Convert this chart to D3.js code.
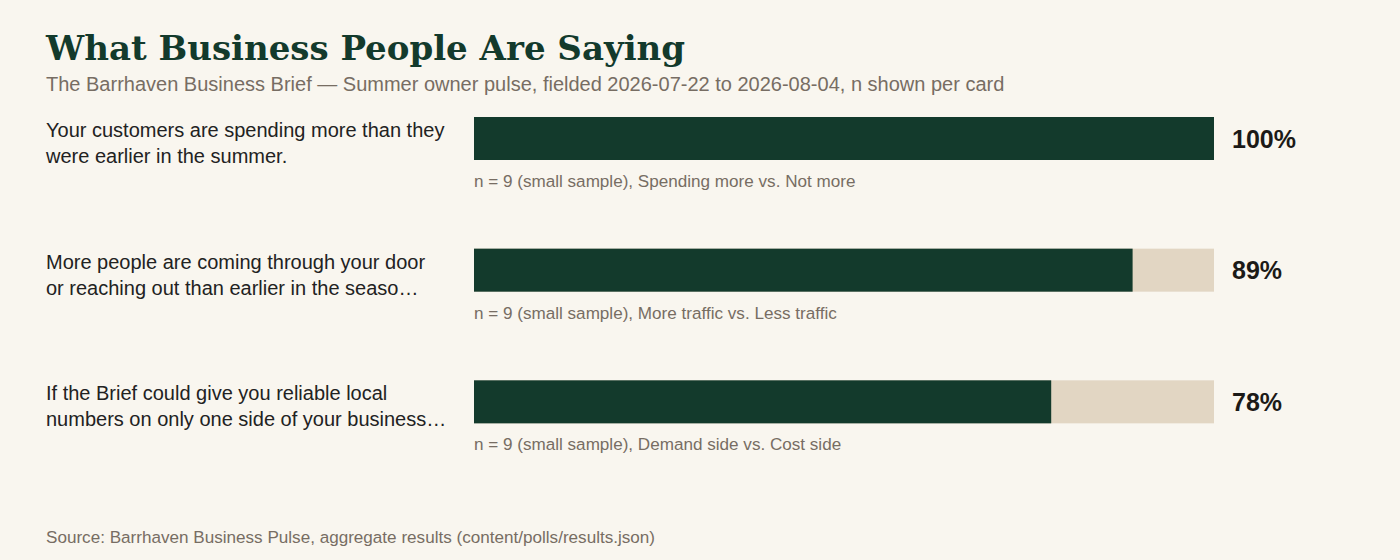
<!DOCTYPE html>
<html>
<head>
<meta charset="utf-8"/>
<script src="https://d3js.org/d3.v7.min.js"></script>
<style>
  body { margin: 0; background: #f9f6ef; }
</style>
</head>
<body>
<svg id="chart" width="1400" height="560"></svg>
<script>
// questions, each as the two lines shown on the card
let questions = [
    ["Your customers are spending more than they", "were earlier in the summer."],
    ["More people are coming through your door", "or reaching out than earlier in the seaso\u2026"],
    ["If the Brief could give you reliable local", "numbers on only one side of your business\u2026"]
];
let shares = [100, 89, 78];
let notes = [
    "n = 9 (small sample), Spending more vs. Not more",
    "n = 9 (small sample), More traffic vs. Less traffic",
    "n = 9 (small sample), Demand side vs. Cost side"
];

let svg = d3.select("svg#chart");
let green = "#133a2c";
let beige = "#e2d6c3";
let grey = "#776d63";
let sans = "'Liberation Sans', Arial, sans-serif";

svg.append("rect").attr("width", 1400).attr("height", 560).style("fill", "#f9f6ef");

// title + subtitle
svg.append("text")
    .text("What Business People Are Saying")
    .attr("x", 46).attr("y", 60)
    .style("font-family", "'DejaVu Serif', serif")
    .style("font-weight", "bold")
    .style("font-size", "34px")
    .style("fill", green);
svg.append("text")
    .text("The Barrhaven Business Brief \u2014 Summer owner pulse, fielded 2026-07-22 to 2026-08-04, n shown per card")
    .attr("x", 46).attr("y", 91)
    .style("font-family", sans)
    .style("font-size", "20px")
    .style("fill", grey);

let xScale = d3.scaleLinear().domain([0, 100]).range([474, 1214]);
let yScale = d3.scaleBand().domain(d3.range(questions.length)).range([117, 512]);
let barH = 43;

questions.forEach(function(q, i) {
    let y0 = yScale(i);
    let g = svg.append("g");

    q.forEach(function(line, j) {
        g.append("text")
            .text(line)
            .attr("x", 46)
            .attr("y", y0 + 20 + j * 26)
            .style("font-family", sans)
            .style("font-size", "20px")
            .style("fill", "#222222");
    });

    // track then filled part
    g.append("rect")
        .attr("x", xScale(0)).attr("y", y0)
        .attr("width", xScale(100) - xScale(0)).attr("height", barH)
        .style("fill", beige);
    g.append("rect")
        .attr("x", xScale(0)).attr("y", y0)
        .attr("width", xScale(shares[i]) - xScale(0)).attr("height", barH)
        .style("fill", green);

    g.append("text")
        .text(shares[i] + "%")
        .attr("x", xScale(100) + 18)
        .attr("y", y0 + barH / 2 + 9)
        .style("font-family", sans)
        .style("font-weight", "bold")
        .style("font-size", "25px")
        .style("fill", "#1c1a17");

    g.append("text")
        .text(notes[i])
        .attr("x", xScale(0))
        .attr("y", y0 + barH + 27)
        .style("font-family", sans)
        .style("font-size", "17.1px")
        .style("fill", grey);
});

svg.append("text")
    .text("Source: Barrhaven Business Pulse, aggregate results (content/polls/results.json)")
    .attr("x", 46).attr("y", 543)
    .style("font-family", sans)
    .style("font-size", "17.1px")
    .style("fill", grey);
</script>
</body>
</html>
